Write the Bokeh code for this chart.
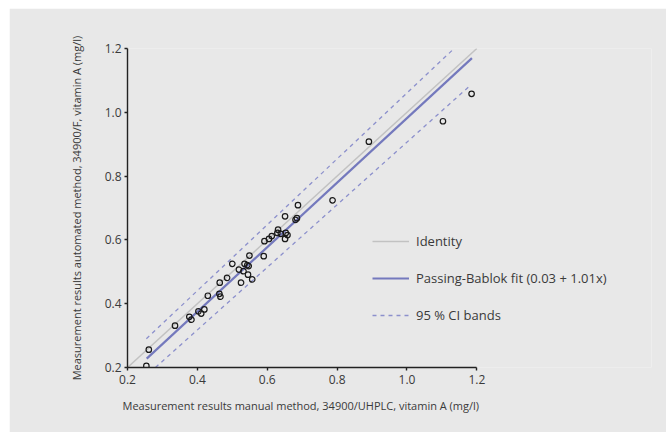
from bokeh.plotting import figure
from bokeh.models import Legend, LegendItem, FixedTicker, NumeralTickFormatter, Title
from bokeh.embed import file_html
from bokeh.resources import INLINE

# ---- data ----
manual = [0.254, 0.261, 0.336, 0.377, 0.383, 0.403, 0.411, 0.420, 0.430, 0.463,
          0.466, 0.464, 0.485, 0.500, 0.519, 0.525, 0.532, 0.535, 0.543, 0.547,
          0.545, 0.549, 0.557, 0.590, 0.592, 0.605, 0.613, 0.629, 0.631, 0.639,
          0.651, 0.653, 0.658, 0.651, 0.681, 0.685, 0.688, 0.787, 0.891, 1.103, 1.185]
automated = [0.205, 0.256, 0.331, 0.359, 0.350, 0.376, 0.369, 0.382, 0.425, 0.431,
             0.422, 0.466, 0.481, 0.525, 0.507, 0.466, 0.502, 0.525, 0.521, 0.518,
             0.491, 0.551, 0.476, 0.549, 0.596, 0.603, 0.612, 0.622, 0.632, 0.619,
             0.603, 0.622, 0.615, 0.674, 0.663, 0.668, 0.709, 0.724, 0.908, 0.972, 1.058]

identity_x = [0.2, 1.2]
identity_y = [0.2, 1.2]
fit_x = [0.255, 1.186]
fit_y = [0.228, 1.170]
ci_upper_x = [0.254, 1.135]
ci_upper_y = [0.290, 1.200]
ci_lower_x = [0.280, 1.183]
ci_lower_y = [0.200, 1.086]

ticks = [0.2, 0.4, 0.6, 0.8, 1.0, 1.2]

x_label = "Measurement results manual method, 34900/UHPLC, vitamin A (mg/l)"
y_label = "Measurement results automated method, 34900/F, vitamin A (mg/l)"
legend_labels = ["Identity", "Passing-Bablok fit (0.03 + 1.01x)", "95 % CI bands"]

# ---- styling ----
BG = "#e8e8e8"
TEXT = "#3a3a3a"
FONT = "Open Sans"
FIT = "#7479bd"
CI = "#8c90cc"
IDENT = "#c2c2c2"

# x range extends past 1.2 so the legend sits inside the frame; axis bounded at 1.2
p = figure(width=657, height=424, x_range=(0.2, 1.7), y_range=(0.2, 1.2),
           output_backend="svg", toolbar_location=None,
           min_border_left=118, min_border_right=15,
           min_border_top=40, min_border_bottom=65,
           background_fill_color=BG, border_fill_color=BG,
           outline_line_color=None)
p.margin = (8, 0, 0, 9)
p.grid.visible = False

r_id = p.line(identity_x, identity_y, line_color=IDENT, line_width=1.5)
r_fit = p.line(fit_x, fit_y, line_color=FIT, line_width=2.2)
r_up = p.line(ci_upper_x, ci_upper_y, line_color=CI, line_width=1.3, line_dash="4 4")
r_lo = p.line(ci_lower_x, ci_lower_y, line_color=CI, line_width=1.3, line_dash="4 4")
p.scatter(manual, automated, marker="circle", size=5.5, fill_color=None,
          line_color="#1a1a1a", line_width=1.2)

for ax in (p.xaxis[0], p.yaxis[0]):
    ax.ticker = FixedTicker(ticks=ticks)
    ax.formatter = NumeralTickFormatter(format="0.0")
    ax.bounds = (0.2, 1.2)
    ax.minor_tick_line_color = None
    ax.major_tick_in = 0
    ax.major_tick_out = 3
    ax.axis_line_color = "#222222"
    ax.axis_line_width = 1.4
    ax.major_tick_line_color = "#222222"
    ax.major_tick_line_width = 1.4
    ax.major_label_text_font = FONT
    ax.major_label_text_font_size = "12px"
    ax.major_label_text_color = TEXT
    ax.axis_label_text_font = FONT
    ax.axis_label_text_font_size = "11px"
    ax.axis_label_text_font_style = "normal"
    ax.axis_label_text_color = TEXT

p.yaxis.axis_label = y_label
p.xaxis.major_label_standoff = 4
p.yaxis.major_label_standoff = 3
p.yaxis.axis_label_standoff = 18

# x-axis title, left-aligned under the bounded axis (frame is wider than the axis)
xt = Title(text=x_label, align="left", offset=-5, standoff=19,
           text_font=FONT, text_font_size="11px", text_font_style="normal",
           text_color=TEXT)
p.add_layout(xt, "below")

legend = Legend(items=[LegendItem(label=legend_labels[0], renderers=[r_id]),
                       LegendItem(label=legend_labels[1], renderers=[r_fit]),
                       LegendItem(label=legend_labels[2], renderers=[r_up])],
                location=(245, 42), orientation="vertical",
                glyph_width=37, glyph_height=20, label_height=20,
                label_standoff=7, spacing=17, padding=0, margin=0,
                background_fill_alpha=0, border_line_color=None,
                label_text_font=FONT, label_text_font_size="13px",
                label_text_color=TEXT)
p.add_layout(legend, "center")

open("out.html", "w").write(file_html(p, INLINE))
